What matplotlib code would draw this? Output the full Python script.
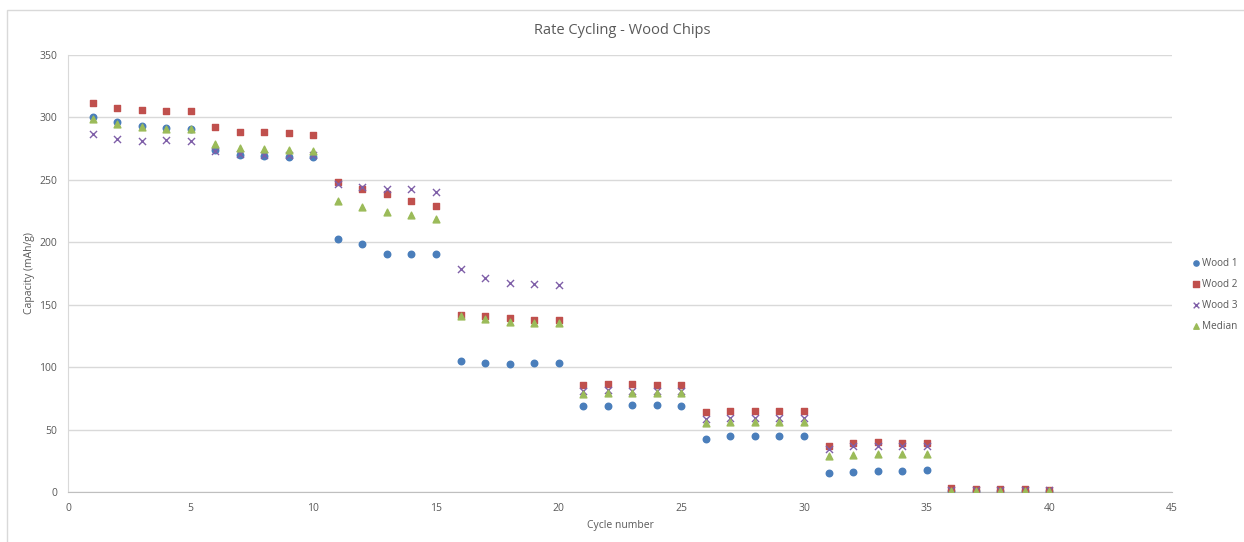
import matplotlib
matplotlib.use("Agg")
import matplotlib.pyplot as plt
from matplotlib.patches import Rectangle

cycles = list(range(1, 41))

wood1 = [300, 296, 293, 291.5, 290.6, 274, 270, 269, 268, 268,
         203, 199, 191, 191, 190.5, 105, 103, 102.5, 103, 103,
         69, 69, 70, 70, 69, 42.5, 45, 45, 45, 45,
         15, 16, 17, 17, 17.6, 1, 1, 1, 1, 1]
wood2 = [311.5, 307.5, 306, 305, 305, 292, 288, 288, 287.5, 286,
         248, 243, 238.6, 233, 229, 142, 141, 139, 138, 138,
         86, 86.5, 86.5, 86, 86, 64, 65, 65, 65, 65,
         37, 39, 40, 39, 39, 3, 2.5, 2.5, 2.5, 2]
wood3 = [286.6, 282.6, 281, 282, 281, 273, 271, 270, 270, 270,
         247, 244, 243, 242.6, 240, 178.5, 171, 167, 166.5, 166,
         81, 82, 81, 81, 81, 58.5, 59, 59, 59, 59,
         34.5, 37, 37, 37, 37, 2, 2, 2, 2, 2]
median = [298.6, 294.6, 292, 290.6, 290.6, 278.6, 275.4, 274.6, 273.8, 273,
          233, 228, 224, 222, 219, 141, 138.5, 136, 135, 135,
          78.5, 79, 79, 79, 79, 55, 56, 56, 56, 56,
          29, 29.6, 30.4, 30.4, 30.4, 1, 1, 1, 1, 1]

plt.rcParams['font.family'] = ['Open Sans', 'DejaVu Sans']
txt = '#595959'

fig = plt.figure(figsize=(12.44, 5.42), dpi=100)
ax = fig.add_axes([68 / 1244, 50 / 542, (1172 - 68) / 1244, (492 - 55) / 542])

ax.scatter(cycles, wood1, marker='o', s=22, color='#4a7ebb', label='Wood 1', zorder=3)
ax.scatter(cycles, wood2, marker='s', s=22, color='#c0504d', label='Wood 2', zorder=3)
ax.scatter(cycles, wood3, marker='x', s=26, color='#7f5fa8', linewidths=1.0, label='Wood 3', zorder=3)
ax.scatter(cycles, median, marker='^', s=24, color='#9bbb59', label='Median', zorder=3)

ax.set_xlim(0, 45)
ax.set_ylim(0, 350)
ax.set_xticks(range(0, 46, 5))
ax.set_yticks(range(0, 351, 50))
ax.grid(axis='y', color='#d9d9d9', linewidth=1)
ax.set_axisbelow(True)
for s in ['top', 'right']:
    ax.spines[s].set_visible(False)
ax.spines['left'].set_color('#d9d9d9')
ax.spines['bottom'].set_color('#bfbfbf')
ax.tick_params(length=0, labelsize=7.5, labelcolor=txt, pad=8)

ax.set_xlabel('Cycle number', fontsize=7.5, color=txt, labelpad=4)
ax.set_ylabel('Capacity (mAh/g)', fontsize=7.5, color=txt, labelpad=3)
fig.text(0.5, 1 - 30 / 542, 'Rate Cycling - Wood Chips', ha='center', va='center',
         fontsize=10.5, color=txt)

ax.legend(loc='center left', bbox_to_anchor=(1182 / 1244, 1 - 295 / 542),
          bbox_transform=fig.transFigure, frameon=False, fontsize=7.2,
          handletextpad=0.1, markerscale=0.8, labelcolor=txt,
          labelspacing=1.0, handlelength=1.0)

# chart area border
fig.patches.append(Rectangle((7 / 1244, -0.05), 1.1, 1 - 10 / 542 + 0.05,
                             transform=fig.transFigure, fill=False,
                             edgecolor='#d9d9d9', linewidth=1))

fig.savefig('out.png', dpi=100)
